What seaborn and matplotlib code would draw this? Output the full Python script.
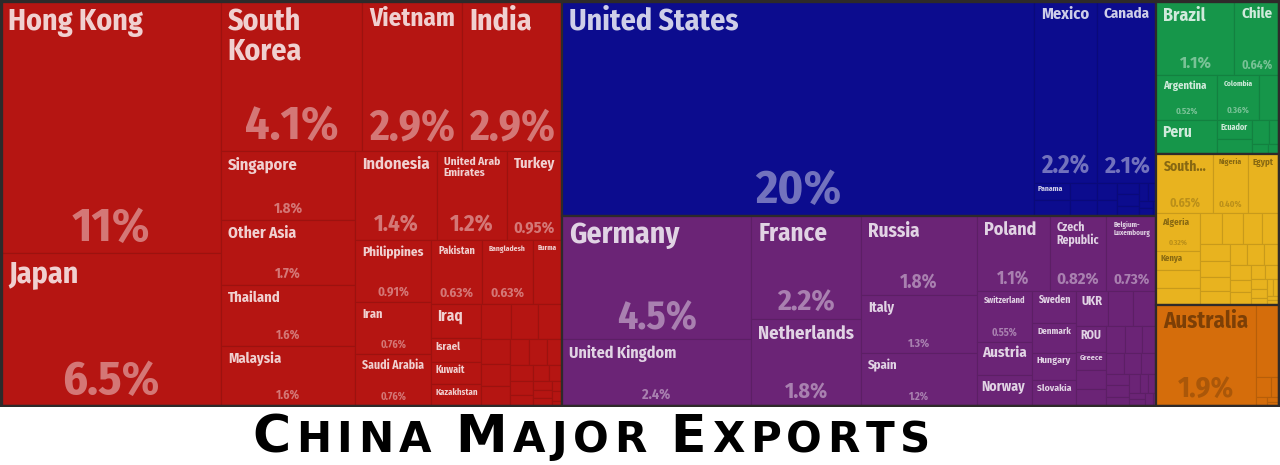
import numpy as np
import pandas as pd
import matplotlib
matplotlib.use("Agg")
import matplotlib.pyplot as plt
import seaborn as sns
from matplotlib import colors as mcolors
from matplotlib import font_manager as fm
from matplotlib.patches import Rectangle

# Share of China's exports by destination (%)
continents = ["Asia", "North America", "Europe", "South America", "Africa", "Oceania"]
continent_colors = ["#b51512", "#0c0c8e", "#6b2476", "#16964a", "#e8b31f", "#d56d0b"]

asia_names = ["Hong Kong", "Japan", "South Korea", "Vietnam", "India", "Singapore",
              "Other Asia", "Thailand", "Malaysia", "Indonesia", "United Arab Emirates",
              "Turkey", "Philippines", "Iran", "Saudi Arabia", "Pakistan", "Bangladesh",
              "Burma", "Iraq", "Israel", "Kuwait", "Kazakhstan"]
asia_values = [10.7, 6.5, 4.1, 2.9, 2.9, 1.78, 1.7, 1.58, 1.57, 1.4, 1.2,
               0.95, 0.91, 0.76, 0.76, 0.63, 0.63,
               0.36, 0.33, 0.23, 0.22, 0.21]
asia_small = [0.20, 0.18, 0.16, 0.14, 0.12, 0.11, 0.10, 0.09, 0.08, 0.07, 0.06,
              0.05, 0.05, 0.04, 0.03, 0.03, 0.03, 0.02, 0.02, 0.01]

na_names = ["United States", "Mexico", "Canada", "Panama"]
na_values = [19.6, 2.18, 2.1, 0.12]
na_small = [0.11, 0.09, 0.08, 0.07, 0.06, 0.05, 0.05, 0.04, 0.03, 0.03, 0.02, 0.02, 0.01]

eu_names = ["Germany", "United Kingdom", "France", "Netherlands", "Russia", "Italy",
            "Spain", "Poland", "Czech Republic", "Belgium-Luxembourg", "Switzerland",
            "Austria", "Norway", "Sweden", "Denmark", "Hungary", "Slovakia", "UKR",
            "ROU", "Greece"]
eu_values = [4.52, 2.44, 2.2, 1.84, 1.78, 1.29, 1.18, 1.06, 0.82, 0.73, 0.55,
             0.36, 0.33, 0.27, 0.25, 0.23, 0.22, 0.215, 0.155, 0.11]
eu_small = [0.17, 0.16, 0.11, 0.10, 0.10, 0.09, 0.08, 0.07, 0.07, 0.06, 0.05,
            0.05, 0.04, 0.04, 0.03, 0.03, 0.02, 0.02, 0.02, 0.01]

sa_names = ["Brazil", "Chile", "Argentina", "Peru", "Colombia", "Ecuador"]
sa_values = [1.12, 0.64, 0.52, 0.40, 0.36, 0.13]
sa_small = [0.17, 0.10, 0.08, 0.05, 0.03, 0.02]

af_names = ["South Africa", "Nigeria", "Egypt", "Algeria", "Kenya"]
af_values = [0.65, 0.40, 0.36, 0.32, 0.16]
af_small = [0.15, 0.14, 0.13, 0.12, 0.11, 0.10, 0.10, 0.09, 0.08, 0.08, 0.07, 0.07,
            0.06, 0.06, 0.05, 0.05, 0.04, 0.04, 0.03, 0.03, 0.02, 0.02, 0.02, 0.01, 0.01]

oc_names = ["Australia"]
oc_values = [1.94]
oc_small = [0.33, 0.06, 0.03, 0.02, 0.01, 0.01]

title_text = "China Major Exports"

# build one long table
groups = [(asia_names, asia_values, asia_small), (na_names, na_values, na_small),
          (eu_names, eu_values, eu_small), (sa_names, sa_values, sa_small),
          (af_names, af_values, af_small), (oc_names, oc_values, oc_small)]
rows = []
for cont, (names, vals, small) in zip(continents, groups):
    rows += [(cont, n, v) for n, v in zip(names, vals)]
    rows += [(cont, "", v) for v in small]
df = pd.DataFrame(rows, columns=["continent", "country", "value"])

PHI = (1 + 5 ** 0.5) / 2


def squarify(values, x0, y0, x1, y1, ratio=PHI):
    # d3.treemapSquarify, values already sorted descending
    out = []
    value = float(sum(values))
    n = len(values)
    i0 = i1 = 0
    while i0 < n:
        dx, dy = x1 - x0, y1 - y0
        s = values[i1]
        i1 += 1
        vmin = vmax = s
        alpha = max(dy / dx, dx / dy) / (value * ratio)
        beta = s * s * alpha
        best = max(vmax / beta, beta / vmin)
        while i1 < n:
            v = values[i1]
            s2 = s + v
            mn, mx = min(vmin, v), max(vmax, v)
            beta = s2 * s2 * alpha
            r = max(mx / beta, beta / mn)
            if r > best:
                break
            s, vmin, vmax, best = s2, mn, mx, r
            i1 += 1
        row = values[i0:i1]
        if dx < dy:
            yb = y0 + dy * s / value
            xx = x0
            for v in row:
                out.append((xx, y0, xx + dx * v / s, yb))
                xx += dx * v / s
            y0 = yb
        else:
            xb = x0 + dx * s / value
            yy = y0
            for v in row:
                out.append((x0, yy, xb, yy + dy * v / s))
                yy += dy * v / s
            x0 = xb
        value -= s
        i0 = i1
    return out


def mix(c, other, t):
    a = np.array(mcolors.to_rgb(c))
    b = np.array(mcolors.to_rgb(other))
    return tuple(a * (1 - t) + b * t)


def fmt_share(v):
    if v >= 10:
        return f"{v:.0f}%"
    if v >= 1:
        return f"{v:.1f}%"
    return f"{v:.2f}%"


def pick_label_font():
    prefs = ["Fira Sans Condensed", "Roboto Condensed", "Liberation Sans Narrow",
             "Noto Sans Condensed", "Open Sans Condensed"]
    for name in prefs:
        for e in fm.fontManager.ttflist:
            w = e.weight if isinstance(e.weight, int) else fm.weight_dict.get(e.weight, 400)
            if e.name == name and w in (600, 700) and e.style == "normal":
                return fm.FontProperties(fname=e.fname)
    for e in fm.fontManager.ttflist:
        fn = e.fname.lower()
        if ("condensed" in fn or "narrow" in fn) and "bold" in fn and "italic" not in fn \
                and "extra" not in fn and "semi" not in fn.replace("semibold", ""):
            return fm.FontProperties(fname=e.fname)
    return fm.FontProperties(family="Roboto", weight="bold")


sns.set_theme(style="white")
plt.rcParams["font.family"] = ["DejaVu Sans"]

DPI = 100
W, H = 1280, 465
MAP_H = 407

fig = plt.figure(figsize=(W / DPI, H / DPI), dpi=DPI, facecolor="white")
ax = fig.add_axes([0, 1 - MAP_H / H, 1, MAP_H / H])
ax.set_xlim(0, W)
ax.set_ylim(MAP_H, 0)
ax.axis("off")
ax_t = fig.add_axes([0, 0, 1, 1 - MAP_H / H])
ax_t.set_xlim(0, W)
ax_t.set_ylim(H, MAP_H)
ax_t.axis("off")

renderer = fig.canvas.get_renderer()
label_fp = pick_label_font()
REF = 100.0


def width_at_ref(s, fp):
    f = fp.copy()
    f.set_size(REF * 72 / DPI)
    return renderer.get_text_width_height_descent(s, f, ismath=False)[0]


def fit(lines, fp, avail):
    return REF * avail / max(width_at_ref(l, fp) for l in lines)


def name_splits(name):
    out = [[name]]
    for i, ch in enumerate(name):
        if ch == " ":
            out.append([name[:i], name[i + 1:]])
        elif ch == "-":
            out.append([name[:i + 1], name[i + 1:]])
    return out


frame = (1, 1, W - 1, MAP_H - 1)
totals = df.groupby("continent", sort=False)["value"].sum()
cont_order = sorted(continents, key=lambda c: -totals[c])
cont_rects = squarify([totals[c] for c in cont_order], *frame)
color_of = dict(zip(continents, continent_colors))

for cont, (cx0, cy0, cx1, cy1) in zip(cont_order, cont_rects):
    sub = df[df["continent"] == cont].sort_values("value", ascending=False, kind="stable")
    fill = color_of[cont]
    light = cont in ("Africa", "Oceania")
    name_col = mix(fill, "black", 0.42) if light else mix(fill, "white", 0.8)
    pct_col = mix(fill, "black", 0.2) if light else mix(fill, "white", 0.42)
    edge = mix(fill, "black", 0.14)
    cells = squarify(list(sub["value"]), cx0, cy0, cx1, cy1)
    for (x0, y0, x1, y1), name, val in zip(cells, sub["country"], sub["value"]):
        ax.add_patch(Rectangle((x0, y0), x1 - x0, y1 - y0, facecolor=fill,
                               edgecolor=edge, linewidth=0.8))
        w, h = x1 - x0, y1 - y0
        pad = max(2.0, min(7.0, 0.12 * min(w, h) + 1.5))
        aw = w - 2 * pad
        show_pct = w >= 34 and h >= 36
        if name:
            cap = (0.24 if show_pct else 0.45) * h
            best = None
            for lines in name_splits(name):
                if len(lines) > 1 and h < 70:
                    continue
                fs = min(30, fit(lines, label_fp, aw), cap)
                if best is None or fs > best[0] * 1.05:
                    best = (fs, lines)
            fs, lines = best
            if fs < 9.5 and " " in name and h < 70:
                lines = [name.split(" ")[0] + "..."]
                fs = min(30, fit(lines, label_fp, aw), cap)
            if fs >= 3.5:
                ax.text(x0 + pad, y0 + pad * 0.8, "\n".join(lines), fontproperties=label_fp,
                        fontsize=fs * 72 / DPI, color=name_col, ha="left", va="top",
                        linespacing=1.0)
        if show_pct and name:
            k = 0.2 + 0.12 * np.clip((h - 60) / 60, 0, 1)
            txt = fmt_share(val)
            ps = min(48, fit([txt], label_fp, aw), k * h)
            ax.text((x0 + x1) / 2, y1 - (0.15 * ps + 5), txt, fontproperties=label_fp,
                    fontsize=ps * 72 / DPI, color=pct_col, ha="center", va="baseline")
    ax.add_patch(Rectangle((cx0, cy0), cx1 - cx0, cy1 - cy0, fill=False,
                           edgecolor="#2e2a2a", linewidth=1.6))

ax.add_patch(Rectangle((frame[0], frame[1]), frame[2] - frame[0], frame[3] - frame[1],
                       fill=False, edgecolor="#2e2a2a", linewidth=2.4))

# title in small caps
title_fp = fm.FontProperties(family="DejaVu Sans", weight="bold")
BIG, SMALL = 52, 42
pieces = []
for word in title_text.split(" "):
    if pieces:
        pieces.append((" ", SMALL))
    for j, ch in enumerate(word):
        pieces.append((ch.upper(), BIG if j == 0 else SMALL))
widths = []
for ch, px in pieces:
    widths.append(0.32 * px if ch == " " else width_at_ref(ch, title_fp) * px / REF)
left, right, base = 252, 930, 452
track = (right - left - sum(widths)) / (len(pieces) - 1)
x = left
for (ch, px), wdt in zip(pieces, widths):
    if ch != " ":
        ax_t.text(x, base, ch, fontproperties=title_fp, fontsize=px * 72 / DPI,
                  color="black", ha="left", va="baseline")
    x += wdt + track

fig.savefig("out.png", dpi=DPI, facecolor="white")
